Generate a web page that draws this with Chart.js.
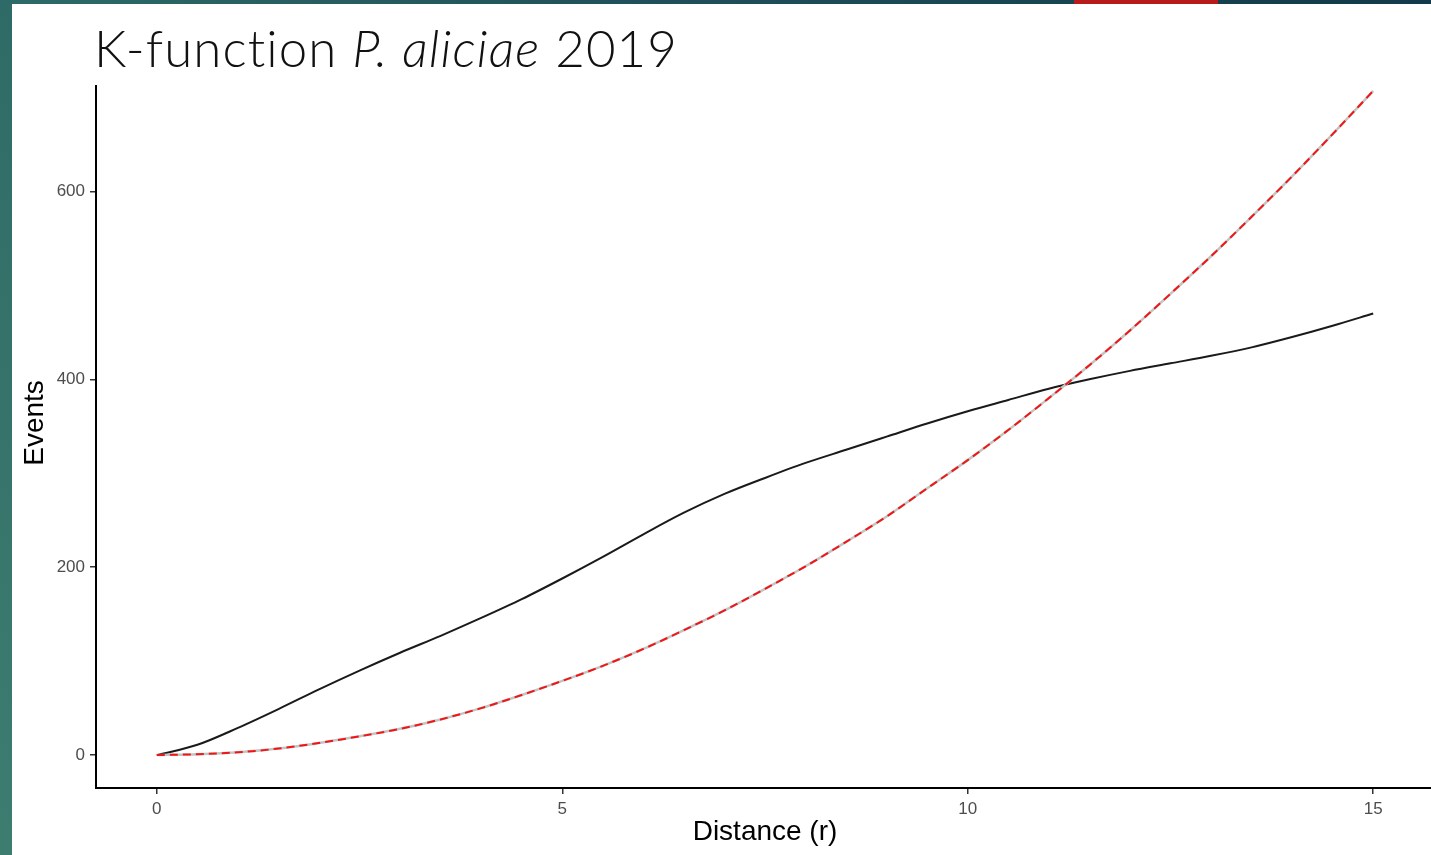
<!DOCTYPE html>
<html>
<head>
<meta charset="utf-8">
<title>K-function P. aliciae 2019</title>
<script src="https://cdn.jsdelivr.net/npm/chart.js@4.4.1/dist/chart.umd.min.js"></script>
<style>
    html, body { margin: 0; padding: 0; width: 1431px; height: 855px; overflow: hidden; background: #fff; }
    #leftBar { position: absolute; left: 0; top: 0; width: 12px; height: 855px; background: linear-gradient(#2f6b66, #3d7d70); z-index: 3; }
    #topBar { position: absolute; left: 0; top: 0; width: 1431px; height: 4px; background: linear-gradient(90deg, #2e6a67, #1f4d58 50%, #123a4a); z-index: 3; }
    #topRed { position: absolute; left: 1074px; top: 0; width: 144px; height: 4px; background: #b81b1b; z-index: 4; }
    #title { position: absolute; left: 12px; top: 4px; width: 1419px; height: 81px; background: #fff; z-index: 2; }
    #title span { position: absolute; left: 82px; top: 13px; font-family: "Century Gothic", "Lato", sans-serif; font-weight: 300; font-size: 51px; letter-spacing: 1.1px; color: #111; white-space: nowrap; }
    #wrap { position: absolute; left: 0; top: 0; width: 1440px; height: 855px; }
</style>
</head>
<body>
<div id="leftBar"></div>
<div id="topBar"></div>
<div id="topRed"></div>
<div id="title"><span>K-function <i>P. aliciae</i> 2019</span></div>
<div id="wrap"><canvas id="kChart" width="1440" height="855"></canvas></div>

<script>
// values
var distance = [0, 0.5, 1, 1.5, 2, 2.5, 3, 3.5, 4, 4.5, 5, 5.5, 6, 6.5, 7, 7.5,
                8, 8.5, 9, 9.5, 10, 10.5, 11, 11.5, 12, 12.5, 13, 13.5, 14, 14.5, 15];
var observedK = [0, 11, 29, 49, 70, 90, 109, 127, 146, 166, 188, 211, 235, 258, 278, 295,
                 311, 325, 339, 353, 366, 378, 390, 400, 409, 417, 425, 434, 445, 457, 470];
var theoreticalK = [0, 1, 3, 7, 13, 20, 28, 38, 50, 64, 79, 95, 113, 133, 154, 177,
                    201, 227, 254, 284, 314, 346, 380, 415, 452, 491, 531, 573, 616, 661, 707];
var xTicks = [0, 5, 10, 15];
var yTicks = [0, 200, 400, 600];

function toPoints(ys) {
    return distance.map(function(r, i) { return { x: r, y: ys[i] }; });
}

var ctx = document.getElementById('kChart').getContext('2d');

new Chart(ctx, {
    type: 'line',
    data: {
        datasets: [
            { label: 'theo', data: toPoints(theoreticalK), borderColor: 'rgb(240, 22, 22)', borderWidth: 2, borderDash: [8, 5] },
            { label: 'theo band', data: toPoints(theoreticalK), borderColor: '#c4c4c4', borderWidth: 2.5 },
            { label: 'obs', data: toPoints(observedK), borderColor: '#1a1a1a', borderWidth: 2 }
        ]
    },
    options: {
        responsive: false,
        animation: false,
        layout: { padding: { left: 0, top: 58, right: 6, bottom: 0 } },
        elements: {
            point: { radius: 0 },
            line: { cubicInterpolationMode: 'monotone', fill: false }
        },
        plugins: {
            legend: { display: false },
            title: { display: false },
            tooltip: { enabled: false }
        },
        scales: {
            x: {
                type: 'linear',
                min: -0.75,
                max: 15.75,
                afterFit: function(scale) { scale.height = 67; },
                afterBuildTicks: function(scale) { scale.ticks = xTicks.map(function(v) { return { value: v }; }); },
                border: { display: true, color: '#000', width: 2 },
                grid: { drawOnChartArea: false, drawTicks: true, tickLength: 6, tickColor: '#333', lineWidth: 1.5 },
                ticks: { color: '#4d4d4d', padding: 5, maxRotation: 0, font: { family: 'Liberation Sans', size: 17 } },
                title: {
                    display: true,
                    text: 'Distance (r)',
                    color: '#000',
                    padding: { top: 0, bottom: 6 },
                    font: { family: 'Liberation Sans', size: 28 }
                }
            },
            y: {
                type: 'linear',
                min: -35,
                max: 742,
                afterFit: function(scale) { scale.width = 96; },
                afterBuildTicks: function(scale) { scale.ticks = yTicks.map(function(v) { return { value: v }; }); },
                border: { display: true, color: '#000', width: 2 },
                grid: { drawOnChartArea: false, drawTicks: true, tickLength: 6, tickColor: '#333', lineWidth: 1.5 },
                ticks: { color: '#4d4d4d', padding: 5, font: { family: 'Liberation Sans', size: 17 } },
                title: {
                    display: true,
                    text: 'Events',
                    color: '#000',
                    padding: { top: 18, bottom: 0 },
                    font: { family: 'Liberation Sans', size: 28 }
                }
            }
        }
    }
});
</script>
</body>
</html>
